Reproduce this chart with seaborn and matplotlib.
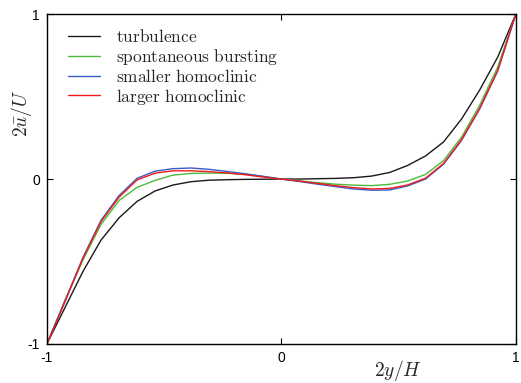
import pandas as pd
import matplotlib
matplotlib.use('Agg')
import matplotlib.pyplot as plt
import seaborn as sns

# wall-normal grid, 2y/H
y_grid = [-1.000, -0.923, -0.846, -0.769, -0.692, -0.615, -0.538, -0.462, -0.385,
          -0.308, -0.231, -0.154, -0.077, 0.000, 0.077, 0.154, 0.231, 0.308,
          0.385, 0.462, 0.538, 0.615, 0.692, 0.769, 0.846, 0.923, 1.000]

# mean streamwise velocity profiles, 2u/U
turbulence = [-1.000, -0.780, -0.560, -0.370, -0.235, -0.135, -0.072, -0.036, -0.016,
              -0.007, -0.004, -0.002, -0.001, 0.000, 0.000, 0.002, 0.004, 0.008,
              0.018, 0.040, 0.082, 0.140, 0.225, 0.365, 0.540, 0.740, 1.000]
bursting = [-1.000, -0.735, -0.490, -0.275, -0.130, -0.050, -0.008, 0.024, 0.034,
            0.036, 0.035, 0.030, 0.016, 0.000, -0.011, -0.022, -0.031, -0.037,
            -0.040, -0.032, -0.012, 0.028, 0.112, 0.255, 0.448, 0.680, 1.000]
smaller = [-1.000, -0.740, -0.475, -0.250, -0.100, 0.005, 0.048, 0.063, 0.067,
           0.059, 0.046, 0.032, 0.016, 0.000, -0.015, -0.031, -0.046, -0.060,
           -0.068, -0.066, -0.042, 0.000, 0.090, 0.235, 0.425, 0.655, 1.000]
larger = [-1.000, -0.745, -0.480, -0.258, -0.110, -0.005, 0.036, 0.050, 0.050,
          0.045, 0.037, 0.026, 0.012, 0.000, -0.012, -0.026, -0.040, -0.052,
          -0.060, -0.057, -0.036, 0.005, 0.095, 0.240, 0.430, 0.660, 1.000]

names = ['turbulence', 'spontaneous bursting', 'smaller homoclinic', 'larger homoclinic']
colors = ['#1a1a1a', '#4cbb3c', '#3a5bc7', '#f01c1c']

profiles = pd.concat([
    pd.DataFrame({'y': y_grid, 'u': vals, 'case': name})
    for name, vals in zip(names, [turbulence, bursting, smaller, larger])
])

sns.set_style('ticks')
plt.rcParams['mathtext.fontset'] = 'cm'
plt.rcParams['font.family'] = ['Liberation Sans', 'DejaVu Sans']

fig = plt.figure(figsize=(5.21, 3.83), dpi=100)
ax = fig.add_axes([0.090, 0.102, 0.900, 0.861])

sns.lineplot(data=profiles, x='y', y='u', hue='case', hue_order=names,
             palette=colors, linewidth=1.0, sort=False, ax=ax)

ax.set_xlim(-1, 1)
ax.set_ylim(-1, 1)
ax.set_xticks([-1, 0, 1])
ax.set_yticks([-1, 0, 1])
ax.set_xticklabels(['-1', '0', '1'])
ax.set_yticklabels(['-1', '0', '1'])
ax.tick_params(direction='in', length=4, width=0.8, top=True, right=True,
               labelsize=10, pad=5, colors='black')
for s in ax.spines.values():
    s.set_linewidth(1.0)
    s.set_color('black')

ax.set_xlabel('')
ax.set_ylabel('')
ax.text(0.748, -0.082, r'$2y/H$', transform=ax.transAxes, fontsize=14,
        ha='center', va='center')
ax.text(-0.055, 0.70, r'$2\bar{u}/U$', transform=ax.transAxes, fontsize=14,
        ha='center', va='center', rotation=90)

handles, labels = ax.get_legend_handles_labels()
ax.legend(handles, [r'$\mathrm{' + l.replace(' ', r'\ ') + '}$' for l in labels],
          loc='upper left', frameon=False, fontsize=12.5,
          handlelength=1.85, handletextpad=0.9, labelspacing=0.08,
          borderaxespad=0.0, bbox_to_anchor=(0.03, 0.978))

fig.savefig('out.png', dpi=100)
